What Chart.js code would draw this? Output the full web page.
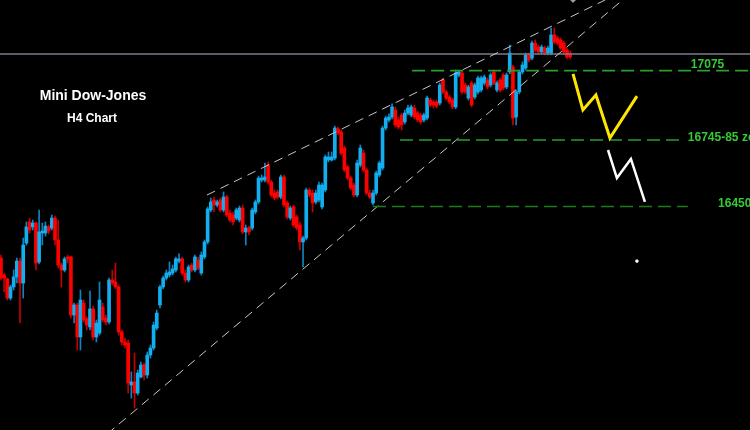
<!DOCTYPE html>
<html>
<head>
<meta charset="utf-8">
<script src="https://cdn.jsdelivr.net/npm/chart.js@4.4.1/dist/chart.umd.min.js"></script>
<style>
html,body{margin:0;padding:0;background:#000}
canvas{display:block;background:#000}
</style>
</head>
<body>
<canvas id="chart" width="750" height="430"></canvas>
<script>
// DATA - H4 candles (bar index -> price)
const opens=[16213,16135,16117,16029,16080,16126,16199,16098,16282,16379,16356,16374,16195,16328,16328,16356,16351,16397,16296,16181,
16158,16218,16218,15951,15997,15850,16006,15933,15896,15979,15850,15868,15988,15937,15919,16112,16103,16080,15873,15827,
15822,15629,15643,15592,15666,15721,15675,15767,15799,15891,15997,16080,16121,16135,16144,16158,16199,16209,16144,16112,
16181,16158,16204,16144,16218,16287,16434,16480,16457,16480,16434,16494,16420,16411,16397,16388,16443,16333,16351,16351,
16425,16471,16572,16572,16641,16563,16512,16517,16494,16586,16466,16397,16448,16402,16365,16287,16305,16526,16512,16471,
16480,16448,16526,16664,16664,16673,16807,16793,16719,16632,16581,16549,16503,16641,16696,16618,16512,16466,16512,16595,
16627,16811,16848,16862,16894,16848,16871,16839,16880,16871,16903,16880,16871,16848,16857,16940,16931,16931,16926,17032,
16977,16954,16940,16908,17055,17064,17009,16949,17018,16954,16977,16986,17018,17032,17009,17069,16986,17032,17055,17000,
17069,17092,16862,16977,17069,17087,17147,17133,17202,17184,17161,17179,17156,17156,17239,17225,17216,17202,17170,17156];
const highs=[16227,16144,16121,16089,16158,16213,16213,16305,16379,16397,16388,16379,16434,16374,16379,16365,16411,16406,16388,16190,
16218,16227,16222,16006,16006,16066,16020,15942,16061,15992,15928,16103,16006,15951,16121,16158,16190,16089,15882,15845,
15836,15689,15776,15698,15735,15730,15781,15813,15919,15974,16089,16130,16158,16195,16181,16218,16232,16218,16158,16181,
16190,16227,16218,16241,16296,16448,16489,16494,16480,16489,16517,16503,16434,16425,16443,16452,16457,16365,16360,16443,
16480,16590,16595,16650,16655,16572,16526,16526,16595,16595,16475,16452,16457,16411,16379,16314,16535,16535,16526,16526,
16563,16558,16687,16701,16701,16820,16816,16802,16728,16641,16590,16558,16664,16733,16710,16627,16526,16526,16613,16659,
16820,16866,16876,16922,16908,16862,16880,16894,16917,16917,16917,16889,16880,16880,16958,16949,16940,16940,17018,17041,
16986,16963,16949,17078,17078,17073,17018,17009,17027,17018,17050,17050,17055,17041,17064,17078,17027,17041,17064,17064,
17193,17101,16986,17078,17115,17156,17156,17211,17216,17193,17193,17188,17188,17271,17271,17234,17225,17211,17179,17165];
const lows=[16112,16057,16020,16020,16066,16098,15914,16029,16273,16328,16342,16158,16186,16273,16314,16324,16342,16273,16167,16080,
16149,16190,15937,15914,15790,15790,15919,15882,15882,15836,15827,15859,15919,15905,15910,16089,16071,15859,15813,15799,
15592,15569,15523,15583,15661,15652,15661,15753,15790,15882,15983,16071,16112,16126,16135,16149,16190,16135,16103,16103,
16149,16149,16158,16135,16209,16278,16425,16425,16448,16425,16425,16402,16379,16365,16388,16379,16324,16273,16319,16342,
16416,16462,16563,16563,16554,16494,16480,16485,16485,16448,16393,16388,16356,16342,16250,16172,16296,16494,16425,16462,
16471,16439,16517,16655,16659,16664,16779,16687,16609,16572,16526,16494,16494,16632,16609,16503,16485,16457,16503,16586,
16618,16802,16839,16853,16816,16807,16802,16830,16871,16862,16853,16839,16830,16839,16848,16908,16903,16903,16917,16968,
16940,16922,16899,16899,17046,16968,16968,16940,16908,16945,16968,16977,17009,16991,17000,17009,16977,16977,16986,16991,
17060,16825,16825,16968,17060,17078,17115,17124,17161,17152,17152,17147,17147,17147,17198,17193,17170,17152,17129,17129];
const closes=[16121,16121,16029,16080,16126,16199,16098,16273,16356,16342,16374,16190,16333,16337,16360,16337,16397,16296,16181,16158,
16209,16209,15951,15997,15850,16020,15928,15905,15979,15850,15914,16020,15928,15919,16112,16098,16080,15873,15827,15813,
15638,15643,15592,15684,15721,15675,15767,15799,15905,15960,16080,16121,16144,16149,16163,16209,16209,16144,16112,16172,
16158,16218,16167,16227,16287,16439,16471,16457,16471,16434,16494,16411,16388,16379,16434,16443,16333,16351,16333,16434,
16471,16581,16581,16586,16563,16503,16489,16494,16586,16457,16402,16443,16365,16351,16287,16305,16526,16503,16466,16512,
16549,16549,16678,16678,16678,16811,16788,16696,16618,16581,16535,16503,16650,16719,16618,16512,16494,16512,16604,16650,
16811,16857,16862,16908,16825,16816,16825,16880,16903,16908,16862,16848,16839,16871,16949,16917,16917,16912,17009,16977,
16949,16931,16908,17064,17069,16977,16977,17000,16917,17009,17041,17041,17046,17000,17055,17018,17018,16986,16995,17055,
17156,16857,16977,17069,17101,17147,17124,17202,17170,17161,17184,17156,17179,17239,17207,17202,17179,17161,17138,17138];

// levels and drawings (bar index, price)
const levelPrices=[17075,16756,16450];
const levelLabels=['17075','16745-85 zone','16450'];
const levelFrom=[129.3,125.5,117];
const levelTo=[236,214.5,216];
const lastPrice=17152;
const upperTrend=[[64.8,16503],[190,17400]];
const lowerTrend=[[33.5,15405],[195.5,17400]];
const yellowPath=[[179.9,17060],[183.0,16894],[187.1,16963],[191.5,16765],[200.0,16958]];
const whitePath=[[190.9,16710],[193.7,16581],[198.1,16669],[202.5,16471]];
const whiteMark=[[200,16199]];
const greyMark=[[179.9,17412]];

const UP='#12aef0',DOWN='#ff0000',UPW='#0d86c0',DOWNW='#c40000';
const isUp=i=>closes[i]>=opens[i];
const pts=a=>a.map(p=>({x:p[0],y:p[1]}));

const datasets=[
  {type:'bar',data:opens.map((o,i)=>({x:i,y:[lows[i],highs[i]]})),
   backgroundColor:c=>isUp(c.dataIndex)?UPW:DOWNW,barThickness:1,grouped:false,order:20},
  {type:'bar',data:opens.map((o,i)=>({x:i,y:[o,closes[i]]})),
   backgroundColor:c=>isUp(c.dataIndex)?UP:DOWN,barThickness:3,grouped:false,order:19},
  {type:'line',data:[{x:-1,y:lastPrice},{x:240,y:lastPrice}],borderColor:'#767d8c',borderWidth:1.5,pointRadius:0,order:5},
  {type:'line',data:pts(upperTrend),borderColor:'#c8c8c8',borderWidth:1,borderDash:[9,6],pointRadius:0,order:4},
  {type:'line',data:pts(lowerTrend),borderColor:'#c8c8c8',borderWidth:1,borderDash:[9,6],pointRadius:0,order:4},
];
levelPrices.forEach((p,i)=>{
  datasets.push({type:'line',data:[{x:levelFrom[i],y:p},{x:levelTo[i],y:p}],
    borderColor:i===2?'#1f7a1f':'#2a9f2a',borderWidth:1.6,borderDash:[13,6],pointRadius:0,order:3});
});
datasets.push({type:'line',data:pts(yellowPath),borderColor:'#ffe600',borderWidth:3,pointRadius:0,order:1});
datasets.push({type:'line',data:pts(whitePath),borderColor:'#ffffff',borderWidth:2.5,pointRadius:0,order:1});
datasets.push({type:'line',data:pts(whiteMark),showLine:false,pointStyle:'rect',pointRadius:1.5,
  backgroundColor:'#fff',borderColor:'#fff',order:1});
datasets.push({type:'line',data:pts(greyMark),showLine:false,pointStyle:'rectRot',pointRadius:5,
  backgroundColor:'#9aa4b2',borderColor:'#9aa4b2',clip:false,order:1});

// TEXT
const textPlugin={
  id:'texts',
  afterDatasetsDraw(chart){
    const c=chart.ctx,ys=chart.scales.y,xs=chart.scales.x;
    c.save();
    c.fillStyle='#fff';c.textAlign='center';c.textBaseline='alphabetic';
    c.font='bold 14px "Liberation Sans", Arial, sans-serif';
    c.fillText('Mini Dow-Jones',93,100);
    c.font='bold 12px "Liberation Sans", Arial, sans-serif';
    c.fillText('H4 Chart',92,122);
    c.fillStyle='#36c936';c.font='bold 12px "Liberation Sans", Arial, sans-serif';
    c.textAlign='center';
    c.fillText(levelLabels[0],xs.getPixelForValue(222.2),ys.getPixelForValue(levelPrices[0])-3);
    c.textAlign='left';
    c.fillText(levelLabels[1],xs.getPixelForValue(216),ys.getPixelForValue(levelPrices[1])+0.5);
    c.fillText(levelLabels[2],xs.getPixelForValue(225.5),ys.getPixelForValue(levelPrices[2])+0.5);
    c.restore();
  }
};

new Chart(document.getElementById('chart'),{
  type:'bar',
  data:{datasets},
  options:{
    responsive:false,animation:false,devicePixelRatio:1,
    layout:{padding:0,autoPadding:false},
    plugins:{legend:{display:false},tooltip:{enabled:false}},
    scales:{
      x:{type:'linear',display:false,min:-0.3,max:235.55,offset:false,grid:{display:false}},
      y:{type:'linear',display:false,min:15422,max:17400,grid:{display:false}}
    }
  },
  plugins:[textPlugin]
});
</script>
</body>
</html>
